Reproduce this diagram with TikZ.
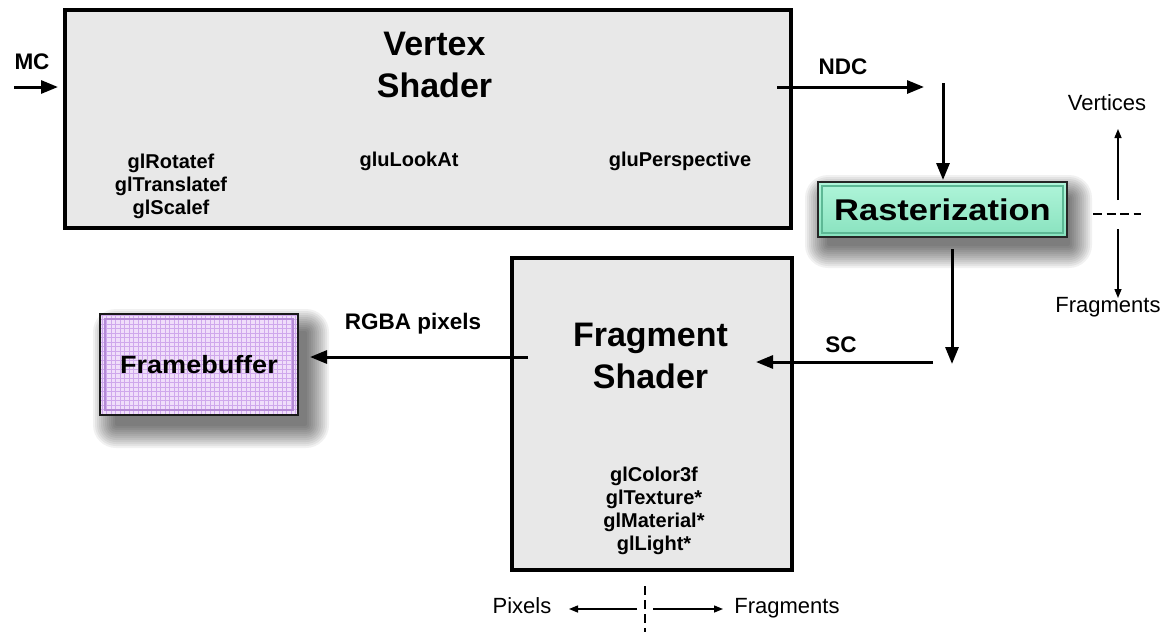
\documentclass[tikz,border=0pt]{standalone}
\usepackage{fontspec}
\setmainfont{Liberation Sans}
\usetikzlibrary{arrows.meta,backgrounds}

\definecolor{panelgray}{HTML}{E8E8E8}
\definecolor{rasttop}{HTML}{B0F5DA}
\definecolor{rastbot}{HTML}{88E2BE}
\definecolor{rastedge}{HTML}{5DB895}
\definecolor{fbfill}{HTML}{F0DEFA}
\definecolor{fbgrid}{HTML}{CFA8EC}
\definecolor{fbedge}{HTML}{B58AD6}

% soft cast shadow behind a node: #1 node, #2/#3 offset in pt (canvas)
\newcommand\castshadow[3]{%
  \foreach \r in {1,3,...,23}{%
    \pgfmathsetmacro\xa{#2-\r+4}%
    \pgfmathsetmacro\xb{#2+\r-4}%
    \pgfmathsetmacro\ya{#3-\r+4}%
    \pgfmathsetmacro\yb{#3+\r-4}%
    \pgfmathsetmacro\rc{max(\r,2)}%
    \fill[black, opacity=0.055, rounded corners=\rc pt]
      ([shift={(\xa pt,\ya pt)}]#1.south west) rectangle
      ([shift={(\xb pt,\yb pt)}]#1.north east);
  }}

\tikzset{
  stage/.style={draw=black, line width=3.5pt, fill=panelgray, inner sep=0pt, outer sep=0pt},
  stagetitle/.style={font=\fontsize{34}{42}\selectfont\bfseries, align=center, inner sep=0pt, anchor=base},
  calls/.style={font=\fontsize{20}{23}\selectfont\bfseries, align=center, inner sep=0pt, anchor=base},
  flowlabel/.style={font=\fontsize{22.5}{26}\selectfont\bfseries, inner sep=0pt, anchor=base},
  legendtext/.style={font=\fontsize{22}{26}\selectfont, inner sep=0pt, anchor=base},
  flow/.style={line width=3pt, -{Triangle[length=17pt,width=13pt]}},
  legendarrow/.style={line width=1.4pt, -{Triangle[length=9pt,width=7pt]}},
  divider/.style={line width=2.8pt, dash pattern=on 9pt off 5pt},
  rastbox/.style={draw=black!85, line width=1.6pt, top color=rasttop, bottom color=rastbot,
    minimum width=249pt, minimum height=55pt, inner sep=0pt, outer sep=0pt,
    path picture={
      \draw[rastedge, line width=1.4pt]
        ([shift={(4pt,4pt)}]path picture bounding box.south west) rectangle
        ([shift={(-4pt,-4pt)}]path picture bounding box.north east);
    }},
  fbbox/.style={draw=black!90, line width=2.6pt, fill=fbfill,
    minimum width=198pt, minimum height=101pt, inner sep=0pt, outer sep=0pt,
    path picture={
      \draw[fbgrid, line width=0.7pt]
        (path picture bounding box.south west) grid[step=4.5pt]
        (path picture bounding box.north east);
      \draw[fbedge, line width=1.4pt]
        ([shift={(5pt,5pt)}]path picture bounding box.south west) rectangle
        ([shift={(-5pt,-5pt)}]path picture bounding box.north east);
    }},
}

\begin{document}
\begin{tikzpicture}[x=1pt, y=-1pt]
\useasboundingbox (0,0) rectangle (1165,632);

% ---- vertex stage ----
\node[stage, minimum width=726pt, minimum height=218pt] (vs) at (428,119) {};
\node[stagetitle] (vstitle) at (434.5,97) {Vertex\\Shader};
\node[calls] (modelcalls) at (171,214) {glRotatef\\glTranslatef\\glScalef};
\node[calls] (viewcall) at (409,166) {gluLookAt};
\node[calls] (projcall) at (680,166) {gluPerspective};

% ---- rasterizer ----
\node[rastbox] (rast) at (942.5,209.5)
  {\scalebox{1.15}[1]{\fontsize{30}{34}\selectfont\bfseries Rasterization}};

% ---- fragment stage ----
\node[stage, minimum width=280pt, minimum height=312pt] (fs) at (652,414) {};
\node[stagetitle] (fstitle) at (650.5,388) {Fragment\\Shader};
\node[calls] (fragcalls) at (654,550) {glColor3f\\glTexture*\\glMaterial*\\glLight*};

% ---- framebuffer ----
\node[fbbox] (fb) at (199,364.5)
  {\scalebox{1.08}[1]{\fontsize{25}{30}\selectfont\bfseries Framebuffer}};

% ---- page and shadows, behind everything ----
\begin{pgfonlayer}{background}
  \fill[white] (0,0) rectangle (1165,632);
  \castshadow{rast}{6}{-12}
  \castshadow{fb}{12}{-14}
\end{pgfonlayer}

% ---- data flow ----
\coordinate (mcA) at (14,87);
\coordinate (mcB) at (58,87);
\draw[flow] (mcA) -- (mcB);
\node[flowlabel] (mc) at (32,69) {MC};

\coordinate (ndcA) at (777,87);
\coordinate (ndcB) at (924,87);
\draw[flow] (ndcA) -- (ndcB);
\node[flowlabel] (ndc) at (843,74) {NDC};

\coordinate (rastin) at (943,83);
\draw[flow] (rastin) -- ([yshift=2pt]rastin |- rast.north);

\coordinate (rastoutA) at (952,249);
\coordinate (rastoutB) at (952,364);
\draw[flow] (rastoutA) -- (rastoutB);

\coordinate (scA) at (933,362);
\coordinate (scB) at (756,362);
\draw[flow] (scA) -- (scB);
\node[flowlabel] (sc) at (841,352) {SC};

\coordinate (rgbaA) at (528,357);
\coordinate (rgbaB) at (310,357);
\draw[flow] (rgbaA) -- (rgbaB);
\node[flowlabel] (rgba) at (413,329) {RGBA pixels};

% ---- legend: vertices / fragments ----
\node[legendtext] (vertlbl) at (1107,110) {Vertices};
\node[legendtext] (fraglbl) at (1108,312) {Fragments};
\coordinate (vupA) at (1118,200);
\coordinate (vupB) at (1118,129);
\draw[legendarrow] (vupA) -- (vupB);
\coordinate (vdnA) at (1118,229);
\coordinate (vdnB) at (1118,298);
\draw[legendarrow] (vdnA) -- (vdnB);
\coordinate (vdashA) at (1093,214);
\coordinate (vdashB) at (1141,214);
\draw[divider, dash pattern=on 9pt off 4.5pt] (vdashA) -- (vdashB);

% ---- legend: pixels / fragments ----
\node[legendtext] (pixlbl) at (522,613) {Pixels};
\node[legendtext] (fraglbl2) at (787,613) {Fragments};
\coordinate (hdashA) at (645,586);
\coordinate (hdashB) at (645,634);
\draw[divider] (hdashA) -- (hdashB);
\coordinate (pxA) at (637,609);
\coordinate (pxB) at (569,609);
\draw[legendarrow] (pxA) -- (pxB);
\coordinate (frA) at (653,609);
\coordinate (frB) at (723,609);
\draw[legendarrow] (frA) -- (frB);
\end{tikzpicture}
\end{document}
